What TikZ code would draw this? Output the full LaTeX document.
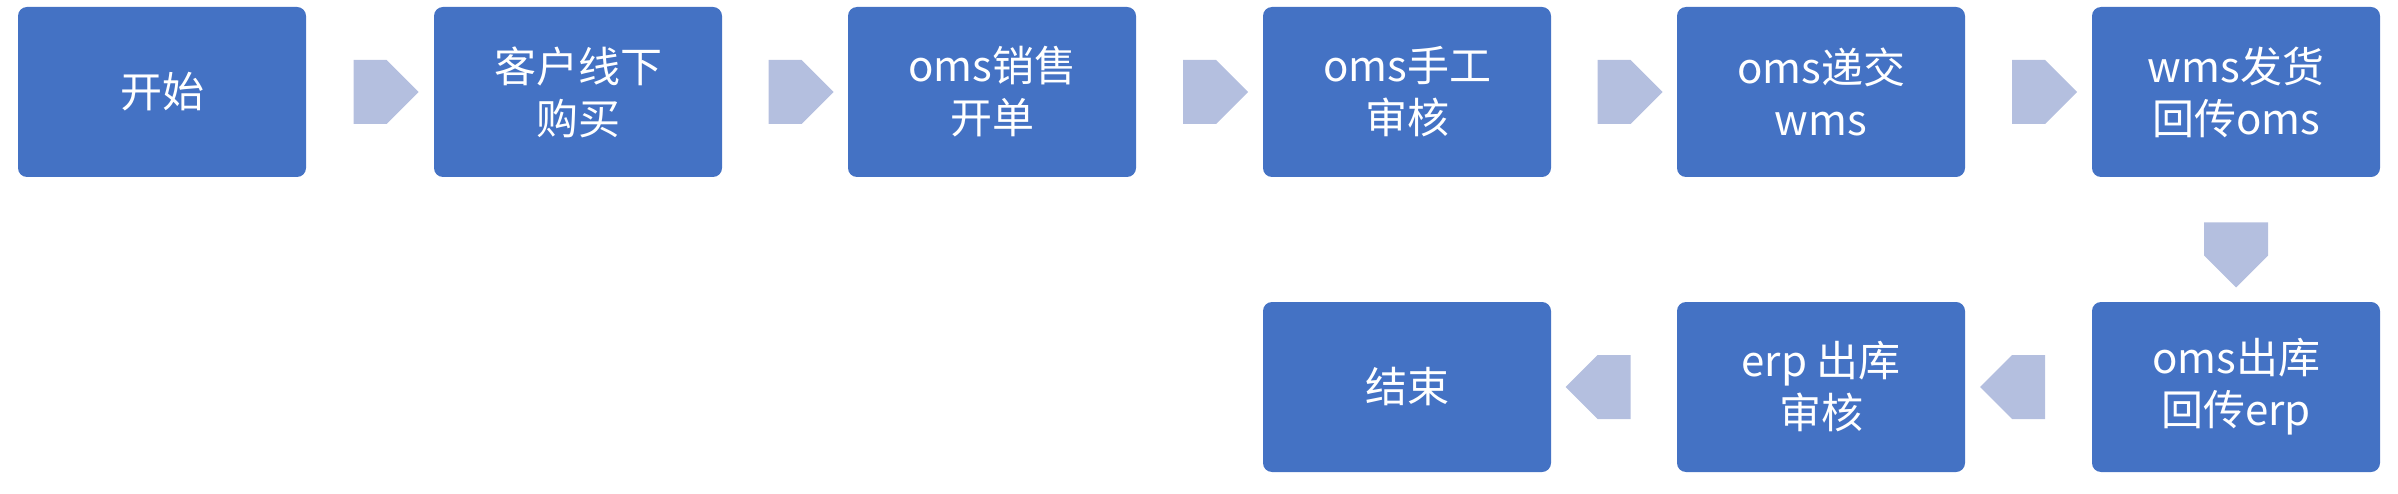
\documentclass[tikz,border=0pt]{standalone}
\usepackage{fontspec}
\setmainfont{Noto Sans CJK SC}
\usetikzlibrary{shapes.arrows,calc}
\definecolor{boxc}{HTML}{4472C4}
\definecolor{arrc}{HTML}{B4BFDF}
\begin{document}
\begin{tikzpicture}[x=1pt,y=-1pt,
  box/.style={fill=boxc,draw=none,rounded corners=9pt,minimum width=288pt,minimum height=170pt,text=white,align=center,font=\fontsize{42}{52}\selectfont,inner sep=0pt},
  arr/.style={single arrow,fill=arrc,draw=none,minimum height=65pt,minimum width=64pt,single arrow head extend=0pt,single arrow tip angle=90,inner sep=0pt}]
\useasboundingbox (0,0) rectangle (2398,494);
\node[box] (a) at (162,92) {开始};
\node[box] (b) at (578,92) {客户线下\\购买};
\node[box] (c) at (992,92) {oms销售\\开单};
\node[box] (d) at (1407,92) {oms手工\\审核};
\node[box] (e) at (1821,92) {oms递交\\wms};
\node[box] (f) at (2236,92) {wms发货\\回传oms};
\node[box] (g) at (2236,387) {oms出库\\回传erp};
\node[box] (h) at (1821,387) {erp 出库\\审核};
\node[box] (i) at (1407,387) {结束};
\node[arr] at ($(a)!0.5!(b)$) {};
\node[arr] at ($(b)!0.5!(c)$) {};
\node[arr] at ($(c)!0.5!(d)$) {};
\node[arr] at ($(d)!0.5!(e)$) {};
\node[arr] at ($(e)!0.5!(f)$) {};
\node[arr,shape border rotate=270] at (2236,239) {};
\node[arr,shape border rotate=180] at ($(g)!0.5!(h)$) {};
\node[arr,shape border rotate=180] at ($(h)!0.5!(i)$) {};
\end{tikzpicture}
\end{document}
